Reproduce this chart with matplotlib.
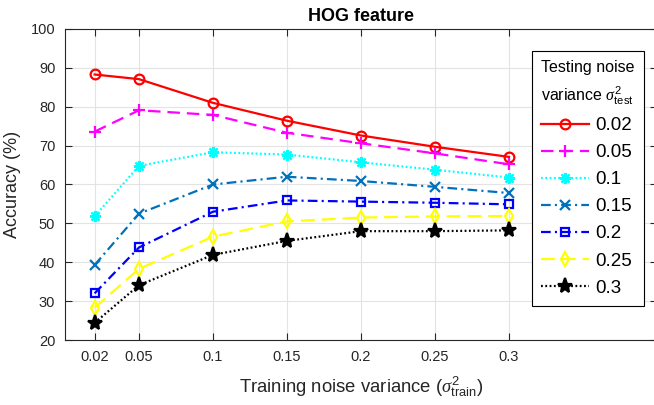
import numpy as np
import matplotlib
matplotlib.use('Agg')
import matplotlib.pyplot as plt

plt.rcParams['font.family'] = ['Liberation Sans', 'DejaVu Sans']
plt.rcParams['mathtext.fontset'] = 'custom'
plt.rcParams['mathtext.rm'] = 'Liberation Sans'
plt.rcParams['mathtext.it'] = 'Liberation Serif:italic'
plt.rcParams['mathtext.bf'] = 'Liberation Sans:bold'
plt.rcParams['lines.scale_dashes'] = False

# data
train_var = [0.02, 0.05, 0.1, 0.15, 0.2, 0.25, 0.3]
test_labels = ['0.02', '0.05', '0.1', '0.15', '0.2', '0.25', '0.3']
acc_002 = [88.3, 87.1, 81.0, 76.4, 72.6, 69.7, 67.1]
acc_005 = [73.6, 79.1, 77.9, 73.3, 70.6, 68.0, 65.2]
acc_01 = [51.8, 64.8, 68.3, 67.7, 65.7, 63.8, 61.8]
acc_015 = [39.3, 52.5, 60.0, 62.0, 60.9, 59.4, 57.8]
acc_02 = [32.0, 43.8, 53.0, 55.9, 55.6, 55.3, 54.9]
acc_025 = [28.3, 38.3, 46.6, 50.5, 51.5, 51.8, 51.9]
acc_03 = [24.4, 34.1, 41.9, 45.5, 48.0, 48.0, 48.2]
series = [acc_002, acc_005, acc_01, acc_015, acc_02, acc_025, acc_03]

# styles (MATLAB-like)
styles = [
    dict(color='#FF0000', marker='o', ms=7, dashes=()),
    dict(color='#FF00FF', marker='+', ms=9, dashes=(9, 5)),
    dict(color='#00FFFF', marker=(8, 2, 0), ms=8, dashes=(1.3, 1.8)),
    dict(color='#0072BD', marker='x', ms=7, dashes=(7, 3, 1.5, 3)),
    dict(color='#0000FF', marker='s', ms=5.5, dashes=(7, 3, 1.5, 3)),
    dict(color='#FFFF00', marker='d', ms=7.5, dashes=(10, 5)),
    dict(color='#000000', marker='*', ms=11, dashes=(1.3, 1.8)),
]

fig = plt.figure(figsize=(6.54, 4.05), dpi=100)
ax = fig.add_axes([65/654, 65/405, 592/654, 311/405])

for vals, lab, st in zip(series, test_labels, styles):
    face = st['color'] if st['marker'] == '*' else 'none'
    ln, = ax.plot(train_var, vals, color=st['color'], marker=st['marker'],
                  lw=1.6, ms=st['ms'], mfc=face, mew=1.6, label=lab)
    if st['dashes']:
        ln.set_dashes(st['dashes'])

ax.set_xlim(0, 0.4)
ax.set_ylim(20, 100)
ax.set_xticks(train_var)
ax.set_xticklabels(['0.02', '0.05', '0.1', '0.15', '0.2', '0.25', '0.3'])
ax.set_yticks(np.arange(20, 101, 10))
ax.grid(True, color='#e3e3e3', lw=0.8)
ax.set_axisbelow(True)
ax.tick_params(direction='in', length=5, width=0.8, top=True, right=True,
               labelsize=10.5, colors='#262626', pad=7)
for sp in ax.spines.values():
    sp.set_color('#262626')
    sp.set_linewidth(0.8)

ax.set_title('HOG feature', fontsize=13, fontweight='bold', pad=6)
ax.set_xlabel(r'Training noise variance ($\sigma^2_{\rm train}$)', fontsize=13.3,
              color='#262626', labelpad=8)
ax.set_ylabel('Accuracy (%)', fontsize=13, color='#262626', labelpad=7)

leg = ax.legend(loc='upper left', bbox_to_anchor=(532/654, 1 - 51/405),
                bbox_transform=fig.transFigure, borderaxespad=0,
                title='Testing noise\n' + r'variance $\sigma^2_{\rm test}$',
                fontsize=13.5, title_fontsize=11.5, handlelength=2.55,
                handletextpad=0.3, labelspacing=0.53, fancybox=False,
                framealpha=1, edgecolor='#000000', alignment='left',
                borderpad=0.5)
leg.get_title().set_linespacing(1.6)
leg.get_frame().set_linewidth(0.8)

fig.savefig('out.png', dpi=100)
